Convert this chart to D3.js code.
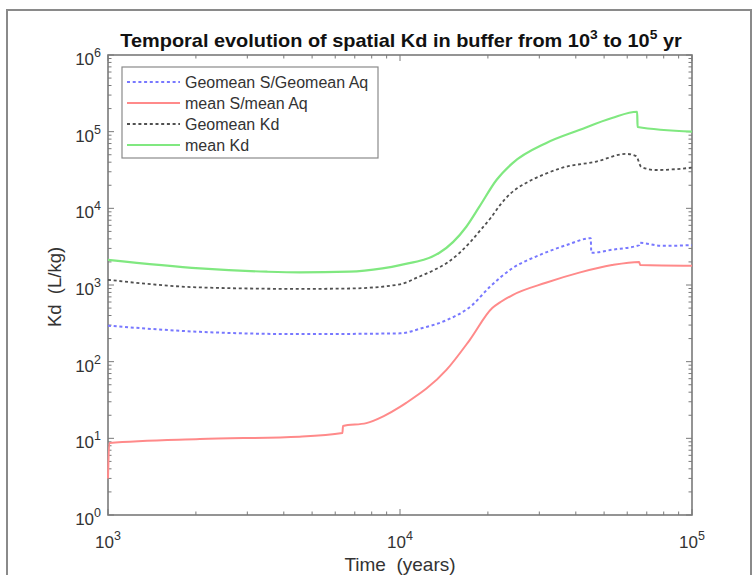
<!DOCTYPE html>
<html>
<head>
<meta charset="utf-8">
<script src="https://cdn.jsdelivr.net/npm/d3@7"></script>
<style>
  html, body { margin: 0; padding: 0; background: #fff; }
  svg { display: block; font-family: "Liberation Sans", Arial, Helvetica, sans-serif; }
</style>
</head>
<body>
<svg id="chart" width="753" height="575"></svg>
<script>
// Time axis (years) and Kd series (L/kg)
const geoRatioT = [1000, 2065, 4530, 10000, 11940, 14420, 17700, 20230, 24300, 30000, 37100, 45000, 45200, 53200, 65900, 66100, 78900, 100000];
const geoRatioV = [295, 245, 229, 234, 275, 347, 550, 933, 1660, 2450, 3310, 4070, 2630, 2880, 3310, 3550, 3240, 3310];

const meanRatioT = [1000, 1010, 2065, 4530, 6350, 6380, 7670, 8800, 10000, 10500, 14420, 17300, 20700, 22100, 24300, 31600, 41100, 53200, 65900, 66500, 100000];
const meanRatioV = [3, 8.7, 9.8, 10.5, 11.7, 14.5, 15.8, 19.5, 25.7, 29, 78, 190, 500, 600, 740, 1070, 1450, 1820, 2000, 1820, 1780];

const geoKdT = [1000, 2065, 4530, 6710, 10000, 11500, 13000, 14500, 16000, 17500, 19000, 20500, 22000, 24000, 27000, 31000, 36000, 47000, 59400, 64400, 67000, 75300, 100000];
const geoKdV = [1170, 930, 890, 900, 1020, 1260, 1550, 1950, 2630, 3720, 5370, 7590, 11000, 15800, 21400, 27500, 33900, 40700, 51300, 47900, 34700, 31600, 33900];

const meanKdT = [1000, 2065, 3500, 4530, 6710, 8710, 10000, 13650, 16870, 18700, 21400, 24300, 31600, 41100, 53200, 64900, 65100, 100000];
const meanKdV = [2130, 1650, 1490, 1460, 1490, 1650, 1820, 2630, 5750, 10500, 23400, 38900, 70800, 105000, 151000, 182000, 115000, 100000];

const seriesNames = ["Geomean S/Geomean Aq", "mean S/mean Aq", "Geomean Kd", "mean Kd"];
const xTickExp = [3, 4, 5];
const yTickExp = [0, 1, 2, 3, 4, 5, 6];

const series = [
  { name: seriesNames[0], t: geoRatioT, v: geoRatioV, color: "#7878ff", dash: "3,2.7", width: 2 },
  { name: seriesNames[1], t: meanRatioT, v: meanRatioV, color: "#ff8a8a", dash: null, width: 2 },
  { name: seriesNames[2], t: geoKdT, v: geoKdV, color: "#505050", dash: "3,2.7", width: 1.8 },
  { name: seriesNames[3], t: meanKdT, v: meanKdV, color: "#80e880", dash: null, width: 2.2 }
];

const svg = d3.select("#chart");
const pLeft = 108, pRight = 692, pTop = 55, pBottom = 515;

// outer frame
svg.append("rect")
  .attr("x", 7).attr("y", 10).attr("width", 744).attr("height", 620)
  .attr("fill", "none").attr("stroke", "#8a8a8a").attr("stroke-width", 2);

const x = d3.scaleLog().domain([1e3, 1e5]).range([pLeft, pRight]);
const y = d3.scaleLog().domain([1, 1e6]).range([pBottom, pTop]);

const axisColor = "#7a7a7a";
const textColor = "#333333";

// minor/major tick values
function logTicks(lo, hi) {
  const out = [];
  for (let e = lo; e < hi; e++) for (let k = 1; k < 10; k++) out.push({ v: k * Math.pow(10, e), major: k === 1 });
  out.push({ v: Math.pow(10, hi), major: true });
  return out;
}
const xt = logTicks(3, 5), yt = logTicks(0, 6);

const axes = svg.append("g");
// ticks drawn inward on all four sides
axes.selectAll(".xb").data(xt).join("line")
  .attr("x1", d => x(d.v)).attr("x2", d => x(d.v))
  .attr("y1", pBottom).attr("y2", d => pBottom - (d.major ? 6 : 3.5))
  .attr("stroke", axisColor).attr("stroke-width", 1);
axes.selectAll(".xt").data(xt).join("line")
  .attr("x1", d => x(d.v)).attr("x2", d => x(d.v))
  .attr("y1", pTop).attr("y2", d => pTop + (d.major ? 6 : 3.5))
  .attr("stroke", axisColor).attr("stroke-width", 1);
axes.selectAll(".yl").data(yt).join("line")
  .attr("y1", d => y(d.v)).attr("y2", d => y(d.v))
  .attr("x1", pLeft).attr("x2", d => pLeft + (d.major ? 6 : 3.5))
  .attr("stroke", axisColor).attr("stroke-width", 1);
axes.selectAll(".yr").data(yt).join("line")
  .attr("y1", d => y(d.v)).attr("y2", d => y(d.v))
  .attr("x1", pRight).attr("x2", d => pRight - (d.major ? 6 : 3.5))
  .attr("stroke", axisColor).attr("stroke-width", 1);

// plot box
svg.append("rect")
  .attr("x", pLeft).attr("y", pTop).attr("width", pRight - pLeft).attr("height", pBottom - pTop)
  .attr("fill", "none").attr("stroke", axisColor).attr("stroke-width", 1.6);

// tick labels as 10^n
function powLabel(g, xp, yp, exp, anchor) {
  const t = g.append("text").attr("x", xp).attr("y", yp).attr("text-anchor", anchor)
    .attr("fill", textColor).attr("font-size", 17);
  t.append("tspan").text("10");
  t.append("tspan").attr("dy", -8).attr("font-size", 12.5).text(exp);
}
const labels = svg.append("g");
xTickExp.forEach(e => powLabel(labels, x(Math.pow(10, e)), 548, e, "middle"));
yTickExp.forEach(e => powLabel(labels, 101, y(Math.pow(10, e)) + 10, e, "end"));

// axis titles
svg.append("text").attr("x", 400).attr("y", 571).attr("text-anchor", "middle")
  .attr("fill", textColor).attr("font-size", 19).attr("xml:space", "preserve").text("Time  (years)");
svg.append("text").attr("transform", "translate(61,287) rotate(-90)").attr("text-anchor", "middle")
  .attr("fill", textColor).attr("font-size", 18.5).attr("xml:space", "preserve").text("Kd  (L/kg)");

// chart title, stretched to its printed width
const title = svg.append("text").attr("x", 0).attr("y", 47).attr("text-anchor", "middle")
  .attr("fill", "#111").attr("font-size", 18).attr("font-weight", "bold");
title.append("tspan").text("Temporal evolution of spatial Kd in buffer from 10");
title.append("tspan").attr("dy", -7.5).attr("font-size", 12.5).text("3");
title.append("tspan").attr("dy", 7.5).text(" to 10");
title.append("tspan").attr("dy", -7.5).attr("font-size", 12.5).text("5");
title.append("tspan").attr("dy", 7.5).text(" yr");
const tw = title.node().getBBox().width;
title.attr("transform", `translate(401,0) scale(${562 / tw},1)`);

// data lines
const line = d3.line().x(d => x(d[0])).y(d => y(d[1])).curve(d3.curveMonotoneX);
const plot = svg.append("g");
series.forEach(s => {
  const pts = s.t.map((t, i) => [t, s.v[i]]);
  plot.append("path").datum(pts).attr("d", line)
    .attr("fill", "none").attr("stroke", s.color).attr("stroke-width", s.width)
    .attr("stroke-dasharray", s.dash).attr("stroke-linejoin", "round");
});

// legend
const lg = svg.append("g");
lg.append("rect").attr("x", 122).attr("y", 67).attr("width", 256).attr("height", 91)
  .attr("fill", "#fff").attr("stroke", "#8a8a8a").attr("stroke-width", 1.2);
series.forEach((s, i) => {
  const yy = 82 + i * 21;
  lg.append("line").attr("x1", 127).attr("x2", 180).attr("y1", yy).attr("y2", yy)
    .attr("stroke", s.color).attr("stroke-width", s.width).attr("stroke-dasharray", s.dash);
  lg.append("text").attr("x", 185).attr("y", yy + 6).attr("fill", textColor)
    .attr("font-size", 16).text(s.name);
});
</script>
</body>
</html>
